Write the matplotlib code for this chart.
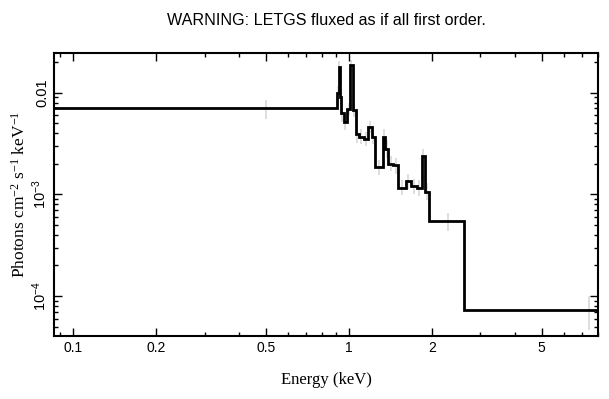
import matplotlib
matplotlib.use("Agg")
import matplotlib.pyplot as plt
from matplotlib.ticker import FixedLocator, NullFormatter, LogLocator

# binned unfolded spectrum (bin edges in keV, flux in photons/cm2/s/keV)
bin_edges = [0.08, 0.907, 0.918, 0.928, 0.938, 0.959, 0.986, 1.008, 1.031, 1.057,
             1.087, 1.133, 1.175, 1.212, 1.24, 1.324, 1.355, 1.388, 1.447, 1.509,
             1.609, 1.673, 1.759, 1.834, 1.885, 1.954, 2.61, 12.25]
flux = [0.0070, 0.0100, 0.0178, 0.0091, 0.0063, 0.0051, 0.0069, 0.0187, 0.0068,
        0.0039, 0.0037, 0.0035, 0.0046, 0.0037, 0.00185, 0.0037, 0.0028, 0.0020,
        0.00195, 0.00116, 0.00136, 0.00121, 0.00116, 0.00240, 0.00106, 0.00055, 7.2e-5]

# error bars (light grey)
err_x = [0.50, 0.912, 0.923, 0.933, 0.948, 0.972, 0.997, 1.019, 1.044, 1.072,
         1.110, 1.154, 1.193, 1.226, 1.282, 1.34, 1.372, 1.418, 1.478, 1.559,
         1.641, 1.716, 1.797, 1.86, 1.92, 2.28, 7.43]
err_lo = [0.0055, 0.0086, 0.0150, 0.0078, 0.0052, 0.0043, 0.0060, 0.0162, 0.0058,
          0.0032, 0.0031, 0.0030, 0.0040, 0.0031, 0.00155, 0.0031, 0.0023, 0.0017,
          0.0016, 0.00098, 0.00114, 0.00101, 0.00097, 0.00205, 0.00088, 0.00044, 4.6e-5]
err_hi = [0.0085, 0.0116, 0.0205, 0.0105, 0.0075, 0.0060, 0.0080, 0.0212, 0.0080,
          0.0047, 0.0044, 0.0041, 0.0053, 0.0044, 0.00218, 0.0044, 0.0034, 0.0024,
          0.0023, 0.00140, 0.00160, 0.00143, 0.00140, 0.00280, 0.00128, 0.00065, 1.0e-4]

xticks = [0.1, 0.2, 0.5, 1, 2, 5]
xtick_labels = ["0.1", "0.2", "0.5", "1", "2", "5"]
yticks = [1e-4, 1e-3, 1e-2]
ytick_labels = [r"$\mathsf{10^{-4}}$", r"$\mathsf{10^{-3}}$", "0.01"]

plt.rcParams.update({
    "font.family": ["Liberation Sans", "DejaVu Sans"],
    "font.size": 10,
    "mathtext.fontset": "custom",
    "mathtext.rm": "Liberation Serif",
    "mathtext.it": "Liberation Serif:italic",
    "mathtext.sf": "Liberation Sans",
    "xtick.direction": "in",
    "ytick.direction": "in",
    "xtick.top": True,
    "ytick.right": True,
})

fig = plt.figure(figsize=(6.09, 3.99), dpi=100)
ax = fig.add_axes([54 / 609, 63 / 399, 544 / 609, 283 / 399])

ax.vlines(err_x, err_lo, err_hi, color="#d8d8d8", lw=1.2, zorder=1)
ax.stairs(flux, bin_edges, color="black", lw=2.0, baseline=None, zorder=2)

ax.set_xscale("log")
ax.set_yscale("log")
ax.set_xlim(0.0853, 8.0)
ax.set_ylim(4.04e-5, 0.0246)

ax.xaxis.set_major_locator(FixedLocator(xticks))
ax.set_xticklabels(xtick_labels)
ax.xaxis.set_minor_locator(LogLocator(subs=[3, 4, 6, 7, 8, 9]))
ax.xaxis.set_minor_formatter(NullFormatter())
ax.yaxis.set_major_locator(FixedLocator(yticks))
ax.set_yticklabels(ytick_labels, rotation=90, va="center", fontsize=10.5)
ax.yaxis.set_minor_locator(LogLocator(subs=range(2, 10)))
ax.yaxis.set_minor_formatter(NullFormatter())

ax.tick_params(which="major", length=6, width=1)
ax.tick_params(which="minor", length=3, width=1)
for s in ax.spines.values():
    s.set_linewidth(1.5)

ax.set_xlabel("Energy (keV)", family="Liberation Serif", fontsize=12, labelpad=12)
ax.set_ylabel(r"Photons cm$^{-2}$ s$^{-1}$ keV$^{-1}$", family="Liberation Serif",
              fontsize=12.5, labelpad=1)
ax.set_title("WARNING: LETGS fluxed as if all first order.", fontsize=11.6, pad=20)

fig.savefig("out.png", dpi=100)
